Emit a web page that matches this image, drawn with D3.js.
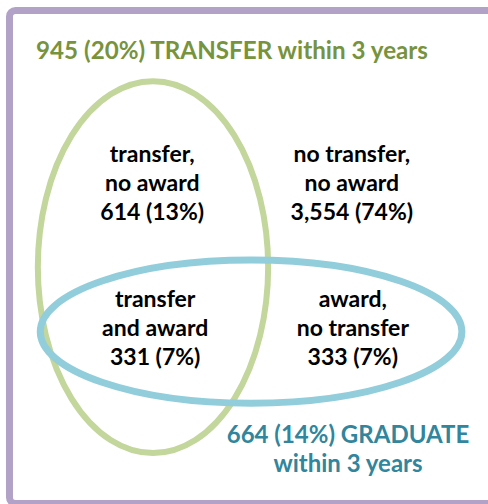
<!DOCTYPE html>
<html lang="en">
<head>
<meta charset="UTF-8">
<title>Transfer and award within 3 years</title>
<script src="https://d3js.org/d3.v7.min.js"></script>
<style>
  body { margin: 0; background: #fff; }
  text { font-family: Lato, "Open Sans", sans-serif; font-weight: bold; }
</style>
</head>
<body>
<div id="chart"></div>
<script>
// data
var setNames = ["TRANSFER", "GRADUATE"];
var setCounts = [945, 664];
var setPcts = [20, 14];
var regionLines = [
  ["transfer,", "no award"],
  ["no transfer,", "no award"],
  ["transfer", "and award"],
  ["award,", "no transfer"]
];
var regionCounts = [614, 3554, 331, 333];
var regionPcts = [13, 74, 7, 7];

var w = 488, h = 504;

// layout in a 0..100 grid, mapped with scales
var x = d3.scaleLinear().domain([0, 100]).range([0, w]);
var y = d3.scaleLinear().domain([0, 100]).range([0, h]);

var ellipses = [
  {cx: 31.35, cy: 53.0, rx: 23.6, ry: 36.9, color: "#c3d69b", width: 6},
  {cx: 51.45, cy: 65.8, rx: 43.2, ry: 14.2, color: "#92cddc", width: 7}
];
var regionPos = [[31.2, 32.1], [72.1, 32.1], [31.8, 60.9], [72.3, 60.9]];
var fmt = d3.format(",");

var svg = d3.select("#chart").append("svg")
  .attr("width", w)
  .attr("height", h);

// purple frame
svg.append("rect")
  .attr("x", 9.5).attr("y", 10.5)
  .attr("width", 500).attr("height", 493)
  .attr("rx", 6)
  .attr("fill", "#fff")
  .attr("stroke", "#b3a2c7")
  .attr("stroke-width", 7);

svg.selectAll("ellipse")
  .data(ellipses)
  .enter().append("ellipse")
  .attr("cx", function(d) { return x(d.cx); })
  .attr("cy", function(d) { return y(d.cy); })
  .attr("rx", function(d) { return x(d.rx); })
  .attr("ry", function(d) { return y(d.ry); })
  .attr("fill", "none")
  .attr("stroke", function(d) { return d.color; })
  .attr("stroke-width", function(d) { return d.width; });

// region labels
var lineH = 29;
regionLines.forEach(function(lines, i) {
  var all = lines.concat([fmt(regionCounts[i]) + " (" + regionPcts[i] + "%)"]);
  var t = svg.append("text")
    .attr("text-anchor", "middle")
    .attr("font-size", 23)
    .attr("fill", "#000");
  all.forEach(function(s, j) {
    t.append("tspan")
      .attr("x", x(regionPos[i][0]))
      .attr("y", y(regionPos[i][1]) + j * lineH)
      .text(s);
  });
});

// set titles
svg.append("text")
  .attr("x", 232).attr("y", 59)
  .attr("text-anchor", "middle")
  .attr("font-size", 24.2)
  .attr("fill", "#77933c")
  .text(setCounts[0] + " (" + setPcts[0] + "%) " + setNames[0] + " within 3 years");

var g2 = svg.append("text")
  .attr("text-anchor", "middle")
  .attr("font-size", 24)
  .attr("fill", "#31859c");
g2.append("tspan").attr("x", 348).attr("y", 443)
  .text(setCounts[1] + " (" + setPcts[1] + "%) " + setNames[1]);
g2.append("tspan").attr("x", 348).attr("y", 472)
  .text("within 3 years");
</script>
</body>
</html>
